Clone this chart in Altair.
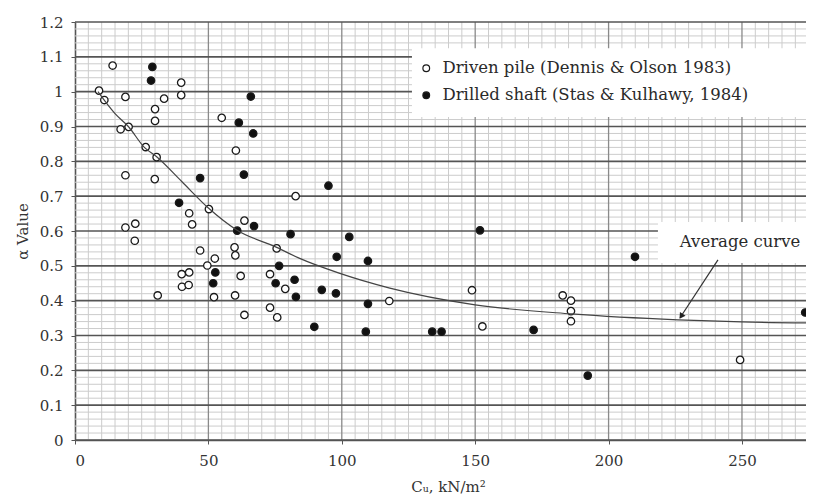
import altair as alt
import pandas as pd

# ---- data ----
driven_x = [14.1, 9.0, 11.0, 18.9, 33.4, 39.8, 39.8, 30.0, 30.0, 17.1, 20.1, 26.5, 30.6, 18.9, 29.9,
            55.0, 60.3, 82.7, 42.8, 43.9, 50.2, 18.9, 22.6, 22.4, 63.5, 75.6, 46.9, 59.8, 60.1, 52.4,
            49.6, 40.0, 42.8, 40.1, 42.6, 31.0, 62.1, 52.1, 60.0, 63.5, 73.1, 73.1, 75.8, 78.8,
            117.8, 148.8, 152.7, 182.8, 185.9, 185.9, 185.9, 249.3]
driven_y = [1.075, 1.003, 0.976, 0.985, 0.980, 1.026, 0.990, 0.950, 0.916, 0.892, 0.899, 0.841, 0.812,
            0.760, 0.749, 0.925, 0.831, 0.700, 0.651, 0.619, 0.663, 0.610, 0.621, 0.572, 0.630, 0.550,
            0.544, 0.553, 0.530, 0.521, 0.501, 0.476, 0.481, 0.440, 0.445, 0.415, 0.471, 0.410, 0.415,
            0.359, 0.476, 0.380, 0.352, 0.434, 0.399, 0.430, 0.326, 0.415, 0.400, 0.370, 0.341, 0.230]

drilled_x = [29.0, 28.5, 65.9, 61.4, 66.8, 46.9, 63.3, 39.0, 60.8, 67.1, 80.8, 52.6, 51.8, 76.5, 75.2,
             82.3, 82.8, 95.0, 102.8, 151.8, 98.1, 109.8, 92.5, 97.8, 109.8, 89.7, 109.0, 133.9,
             137.4, 171.9, 192.2, 209.9, 273.7, 276.0]
drilled_y = [1.071, 1.032, 0.986, 0.911, 0.880, 0.752, 0.762, 0.681, 0.601, 0.614, 0.591, 0.481, 0.450,
             0.500, 0.450, 0.460, 0.411, 0.730, 0.583, 0.602, 0.526, 0.514, 0.431, 0.421, 0.391, 0.325,
             0.311, 0.311, 0.311, 0.316, 0.185, 0.526, 0.366, 0.249]

curve_x = [8.6, 15, 20, 26, 30.6, 40, 50, 60.6, 75.6, 84, 99, 118, 150, 186, 226, 250, 277]
curve_y = [1.0, 0.937, 0.90, 0.84, 0.813, 0.742, 0.666, 0.603, 0.553, 0.522, 0.479, 0.436, 0.388,
           0.362, 0.345, 0.339, 0.336]

series_names = ["Driven pile (Dennis & Olson 1983)", "Drilled shaft (Stas & Kulhawy, 1984)"]

x_ticks = [0, 50, 100, 150, 200, 250]
y_ticks = [0, 0.1, 0.2, 0.3, 0.4, 0.5, 0.6, 0.7, 0.8, 0.9, 1, 1.1, 1.2]
x_minor = [v for v in range(5, 280, 5) if v % 50 != 0]
y_minor = [round(i * 0.02, 2) for i in range(61) if i % 5 != 0]

X_DOMAIN = [0, 274]
Y_DOMAIN = [0, 1.2]
FONT = "DejaVu Serif"
X_TITLE = "Cᵤ, kN/m²"
Y_TITLE = "α Value"

pts = pd.DataFrame({
    "x": driven_x + drilled_x,
    "y": driven_y + drilled_y,
    "type": [series_names[0]] * len(driven_x) + [series_names[1]] * len(drilled_x),
})
curve = pd.DataFrame({"x": curve_x, "y": curve_y})

xs = alt.Scale(domain=X_DOMAIN, nice=False, zero=False)
ys = alt.Scale(domain=Y_DOMAIN, nice=False, zero=False)

x_axis = alt.Axis(values=x_ticks, grid=False, domain=True, domainColor="#555", domainWidth=1.6,
                  tickSize=4, tickColor="#555", labelPadding=9, titlePadding=11, titleX=373,
                  format="d")
y_axis = alt.Axis(values=y_ticks, grid=False, domain=True, domainColor="#555", domainWidth=1.6,
                  tickSize=4, tickColor="#555", labelPadding=8, titlePadding=9, format="~g")


def X(field):
    return alt.X(field, scale=xs, axis=x_axis, title=X_TITLE)


def Y(field):
    return alt.Y(field, scale=ys, axis=y_axis, title=Y_TITLE)


MINOR = "#cccccc"
x_minor_rules = alt.Chart(pd.DataFrame({"v": x_minor})).mark_rule(color=MINOR, strokeWidth=1).encode(
    x=X("v:Q"))
y_minor_rules = alt.Chart(pd.DataFrame({"v": y_minor})).mark_rule(color=MINOR, strokeWidth=1).encode(
    y=Y("v:Q"))
x_major_rules = alt.Chart(pd.DataFrame({"v": x_ticks[1:]})).mark_rule(color="#8a8a8a", strokeWidth=1.3).encode(
    x=X("v:Q"))
y_major_rules = alt.Chart(pd.DataFrame({"v": y_ticks})).mark_rule(color="#555555", strokeWidth=1.6).encode(
    y=Y("v:Q"))

# white boxes behind legend and annotation
legend_box = alt.Chart(pd.DataFrame({"x": [126.3], "x2": [274.4], "y": [0.927], "y2": [1.125]})).mark_rect(
    color="white", clip=True).encode(x=X("x:Q"), x2="x2:Q", y=Y("y:Q"), y2="y2:Q")
note_box = alt.Chart(pd.DataFrame({"x": [218.5], "x2": [274.4], "y": [0.508], "y2": [0.626]})).mark_rect(
    color="white", clip=True).encode(x=X("x:Q"), x2="x2:Q", y=Y("y:Q"), y2="y2:Q")

points = alt.Chart(pts).mark_point(filled=True, size=55, stroke="#1a1a1a", strokeWidth=1.3, opacity=1,
                                   clip=True).encode(
    x=X("x:Q"),
    y=Y("y:Q"),
    fill=alt.Fill("type:N", scale=alt.Scale(domain=series_names, range=["white", "#111111"]),
                  legend=alt.Legend(title=None, orient="none", legendX=343, legendY=38,
                                    symbolType="circle", symbolSize=45, symbolStrokeColor="#1a1a1a",
                                    symbolStrokeWidth=1.2, labelFont=FONT, labelFontSize=16.5,
                                    labelColor="#2a2a2a", labelOffset=8, rowPadding=10, labelLimit=400)),
)

line = alt.Chart(curve).mark_line(color="#444", strokeWidth=1.2, interpolate="monotone", clip=True).encode(
    x=X("x:Q"), y=Y("y:Q"))

arrow = alt.Chart(pd.DataFrame({"x": [241.0], "y": [0.517], "x2": [226.8], "y2": [0.351]})).mark_rule(
    color="#333", strokeWidth=1.2).encode(x=X("x:Q"), y=Y("y:Q"), x2="x2:Q", y2="y2:Q")
arrow_head = alt.Chart(pd.DataFrame({"x": [227.2], "y": [0.355]})).mark_point(
    shape="triangle-up", angle=213, filled=True, size=45, color="#222", opacity=1).encode(
    x=X("x:Q"), y=Y("y:Q"))
note_text = alt.Chart(pd.DataFrame({"x": [249.3], "y": [0.568], "t": ["Average curve"]})).mark_text(
    font=FONT, fontSize=16.5, color="#2a2a2a", clip=True).encode(x=X("x:Q"), y=Y("y:Q"), text="t:N")

chart = alt.layer(
    x_minor_rules, y_minor_rules, x_major_rules, y_major_rules,
    legend_box, note_box, points, line, arrow, arrow_head, note_text
).properties(
    width=731, height=418,
    autosize=alt.AutoSizeParams(type="none"),
    padding={"left": 67, "top": 14, "right": 0, "bottom": 62},
).configure(
    background="white",
    view=alt.ViewConfig(stroke=None),
    axis=alt.AxisConfig(labelFont=FONT, titleFont=FONT, labelFontSize=15, titleFontSize=15,
                        labelColor="#333", titleColor="#333", titleFontWeight="normal"),
)

chart.save("out.html", embed_options={"renderer": "svg", "actions": False})
